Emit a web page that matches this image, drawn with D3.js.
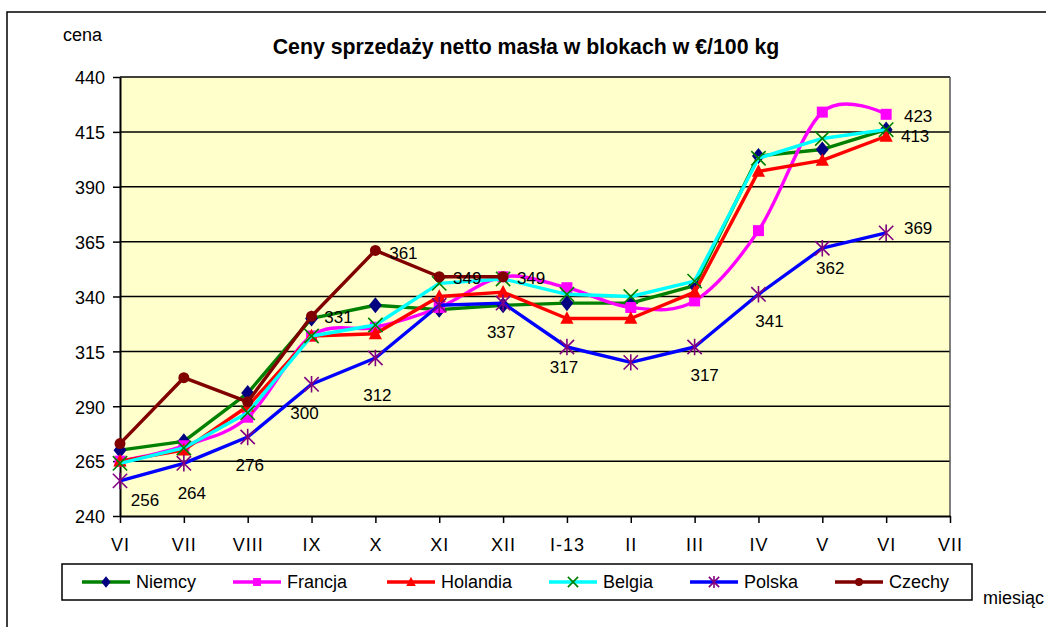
<!DOCTYPE html>
<html><head><meta charset="utf-8">
<script src="https://cdn.jsdelivr.net/npm/d3@7"></script>
<style>
html,body{margin:0;padding:0;background:#fff;overflow:hidden}
text{font-family:"Liberation Sans",Arial,sans-serif;fill:#000}
</style></head>
<body>
<svg id="c" width="1046" height="627"></svg>
<script>
// ---------- data ----------
const months = ["VI","VII","VIII","IX","X","XI","XII","I-13","II","III","IV","V","VI ","VII "];
const monthLabels = ["VI","VII","VIII","IX","X","XI","XII","I-13","II","III","IV","V","VI","VII"];
const yTicks = [240,265,290,315,340,365,390,415,440];
const niemcy   = [270,274,296,330,336,334,336,337,337,345,404,407,416];
const francja  = [265,272,285,322,326,335,349,344,335,338,370,424,423];
const holandia = [265,270,290,322,323,340,342,330,330,342,397,402,413];
const belgia   = [264,271,287,322,327,346,348,341,340,347,403,412,416];
const polska   = [256,264,276,300,312,336,337,317,310,317,341,362,369];
const czechy   = [273,303,292,331,361,349,349];
const seriesNames = ["Niemcy","Francja","Holandia","Belgia","Polska","Czechy"];

// ---------- styles / layout ----------
const series = [
  {name:"Niemcy",  values:niemcy,   line:"#008000", marker:"diamond", mcol:"#000080"},
  {name:"Francja", values:francja,  line:"#FF00FF", marker:"square",  mcol:"#FF00FF", smooth:true},
  {name:"Holandia",values:holandia, line:"#FF0000", marker:"triangle",mcol:"#FF0000"},
  {name:"Belgia",  values:belgia,   line:"#00FFFF", marker:"x",       mcol:"#008000"},
  {name:"Polska",  values:polska,   line:"#0000FF", marker:"star",    mcol:"#800080"},
  {name:"Czechy",  values:czechy,   line:"#800000", marker:"circle",  mcol:"#800000"}
];
const labelCfg = [
  {s:"Polska",i:0,dx:25,dy:19},{s:"Polska",i:1,dx:8,dy:30},{s:"Polska",i:2,dx:2,dy:28},
  {s:"Polska",i:3,dx:-7,dy:29},{s:"Polska",i:4,dx:2,dy:37},{s:"Polska",i:6,dx:-2,dy:29},
  {s:"Polska",i:7,dx:-3,dy:20},{s:"Polska",i:9,dx:10,dy:28},{s:"Polska",i:10,dx:11,dy:27},
  {s:"Polska",i:11,dx:8,dy:20},{s:"Polska",i:12,dx:32,dy:-5},
  {s:"Czechy",i:3,dx:27,dy:1},{s:"Czechy",i:4,dx:28,dy:2},{s:"Czechy",i:5,dx:28,dy:1},{s:"Czechy",i:6,dx:28,dy:1},
  {s:"Francja",i:12,dx:32,dy:2},{s:"Holandia",i:12,dx:29,dy:0}
];
const legendX = [82,233,387,549,690,835];

const svg = d3.select("#c");
const L=120,R=950,T=77,B=516;
const x = d3.scalePoint().domain(months).range([L,R]).padding(0);
const y = d3.scaleLinear().domain([240,440]).range([B,T]);

// outer chart border
svg.append("rect").attr("x",7).attr("y",12).attr("width",1100).attr("height",700)
  .attr("fill","none").attr("stroke","#000").attr("stroke-width",1.5);

// plot area
svg.append("rect").attr("x",L).attr("y",T).attr("width",R-L).attr("height",B-T).attr("fill","#FFFFCC");
svg.append("g").selectAll("line").data(yTicks.slice(1)).join("line")
  .attr("x1",L).attr("x2",R).attr("y1",d=>y(d)).attr("y2",d=>y(d))
  .attr("stroke","#000").attr("stroke-width",1.5);
svg.append("line").attr("x1",R).attr("x2",R).attr("y1",T).attr("y2",B).attr("stroke","#555").attr("stroke-width",1.5);

// axes
const yAxis = svg.append("g").attr("transform",`translate(${L},0)`)
  .call(d3.axisLeft(y).tickValues(yTicks).tickSize(7).tickSizeOuter(0).tickPadding(8));
yAxis.selectAll("text").style("font-size","18px").attr("dy","0.38em");
const xAxis = svg.append("g").attr("transform",`translate(0,${B})`)
  .call(d3.axisBottom(x).tickSize(7).tickSizeOuter(0).tickPadding(15).tickFormat((d,i)=>monthLabels[i]));
xAxis.selectAll("text").style("font-size","18px").style("letter-spacing","1px");
svg.selectAll(".domain").attr("stroke","#000").attr("stroke-width",2);
svg.selectAll(".tick line").attr("stroke","#000").attr("stroke-width",1.5);

// markers
function drawMarker(g, type, cx, cy, col, s){
  if(type==="diamond"){
    g.append("path").attr("d",`M${cx},${cy-s*0.62}L${cx+s*0.5},${cy}L${cx},${cy+s*0.62}L${cx-s*0.5},${cy}Z`).attr("fill",col);
  } else if(type==="square"){
    g.append("rect").attr("x",cx-s*0.5).attr("y",cy-s*0.5).attr("width",s).attr("height",s).attr("fill",col);
  } else if(type==="triangle"){
    g.append("path").attr("d",`M${cx},${cy-s*0.6}L${cx+s*0.55},${cy+s*0.45}L${cx-s*0.55},${cy+s*0.45}Z`).attr("fill",col);
  } else if(type==="circle"){
    g.append("circle").attr("cx",cx).attr("cy",cy).attr("r",s*0.5).attr("fill",col);
  } else if(type==="x"){
    const h=s*0.55;
    g.append("path").attr("d",`M${cx-h},${cy-h}L${cx+h},${cy+h}M${cx-h},${cy+h}L${cx+h},${cy-h}`).attr("stroke",col).attr("stroke-width",1.6).attr("fill","none");
  } else if(type==="star"){
    const h=s*0.55;
    g.append("path").attr("d",`M${cx-h},${cy-h}L${cx+h},${cy+h}M${cx-h},${cy+h}L${cx+h},${cy-h}M${cx},${cy-h*1.15}L${cx},${cy+h*1.15}`).attr("stroke",col).attr("stroke-width",1.6).attr("fill","none");
  }
}
const msize = {diamond:13,square:11,triangle:12,circle:11,x:13,star:13};

series.forEach(s=>{
  const g = svg.append("g");
  const line = d3.line().x((d,i)=>x(months[i])).y(d=>y(d))
    .curve(s.smooth ? d3.curveCardinal.tension(0) : d3.curveLinear);
  g.append("path").attr("d",line(s.values)).attr("fill","none").attr("stroke",s.line)
    .attr("stroke-width",3.4).attr("stroke-linejoin","round");
  s.values.forEach((v,i)=>drawMarker(g,s.marker,x(months[i]),y(v),s.mcol,msize[s.marker]));
});

// data labels
labelCfg.forEach(c=>{
  const s = series.find(d=>d.name===c.s);
  const v = s.values[c.i];
  svg.append("text").attr("x",x(months[c.i])+c.dx).attr("y",y(v)+c.dy)
    .attr("text-anchor","middle").attr("dy","0.36em").style("font-size","17px").text(v);
});

// title & axis titles
svg.append("text").attr("x",526).attr("y",54).attr("text-anchor","middle")
  .style("font-size","21.3px").style("font-weight","bold").text("Ceny sprzedaży netto masła w blokach w €/100 kg");
svg.append("text").attr("x",63).attr("y",41).style("font-size","18px").text("cena");
svg.append("text").attr("x",983).attr("y",604).style("font-size","18px").text("miesiąc");

// legend
svg.append("rect").attr("x",62).attr("y",564).attr("width",910).attr("height",36)
  .attr("fill","#fff").attr("stroke","#000").attr("stroke-width",1.5);
series.forEach((s,k)=>{
  const lx = legendX[k], ly = 582;
  const g = svg.append("g");
  g.append("line").attr("x1",lx).attr("x2",lx+48).attr("y1",ly).attr("y2",ly).attr("stroke",s.line).attr("stroke-width",3.4);
  drawMarker(g,s.marker,lx+24,ly,s.mcol,msize[s.marker]*0.72);
  g.append("text").attr("x",lx+54).attr("y",ly).attr("dy","0.36em").style("font-size","18px").text(seriesNames[k]);
});
</script>
</body></html>
